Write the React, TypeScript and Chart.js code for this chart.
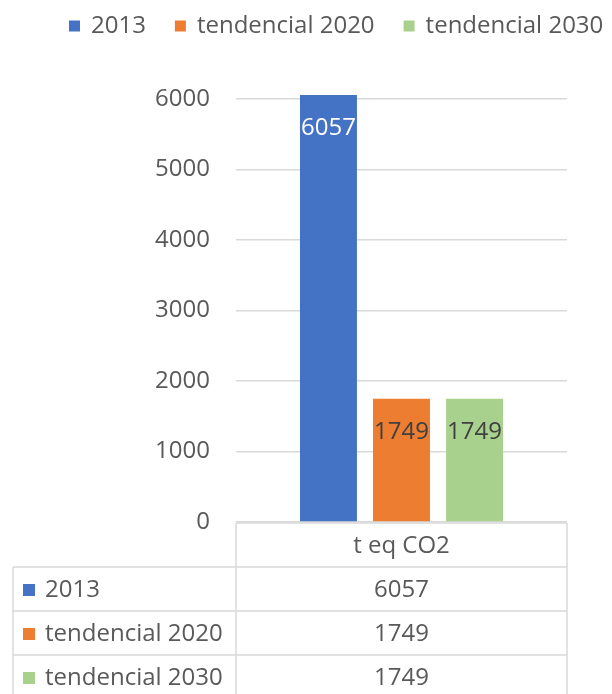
import React, { useEffect, useRef } from 'react';
import { Chart, registerables } from 'chart.js';

Chart.register(...registerables);

// ---- data ----
const categories = ['t eq CO2'];
const seriesNames = ['2013', 'tendencial 2020', 'tendencial 2030'];
const series2013 = [6057];
const seriesTend2020 = [1749];
const seriesTend2030 = [1749];
const seriesColors = ['#4472C4', '#ED7D31', '#A9D18E'];
const dataLabelColors = ['#FFFFFF', '#404040', '#404040'];
const yMin = 0;
const yMax = 6000;
const yStep = 1000;

const FONT = '"Open Sans", "Noto Sans", sans-serif';
const FONT_SIZE = 24;
const TEXT = '#595959';
const LINE = '#D9D9D9';

export default function App() {
  const ref = useRef<HTMLCanvasElement>(null);

  useEffect(() => {
    const canvas = ref.current;
    if (!canvas) return;

    const legendPlugin = {
      id: 'customLegend',
      afterDraw(chart: any) {
        const ctx = chart.ctx;
        ctx.save();
        ctx.font = `${FONT_SIZE}px ${FONT}`;
        ctx.textBaseline = 'middle';
        ctx.textAlign = 'left';
        let x = 69;
        const y = 26;
        chart.data.datasets.forEach((ds: any) => {
          ctx.fillStyle = ds.backgroundColor;
          ctx.fillRect(x, y - 5.5, 11, 11);
          ctx.fillStyle = TEXT;
          ctx.fillText(ds.label, x + 22, y);
          x += 22 + ctx.measureText(ds.label).width + 29;
        });
        ctx.restore();
      },
    };

    const dataLabelPlugin = {
      id: 'dataLabels',
      afterDatasetsDraw(chart: any) {
        const ctx = chart.ctx;
        ctx.save();
        ctx.font = `${FONT_SIZE}px ${FONT}`;
        ctx.textBaseline = 'middle';
        ctx.textAlign = 'center';
        chart.data.datasets.forEach((ds: any, i: number) => {
          const meta = chart.getDatasetMeta(i);
          meta.data.forEach((bar: any, j: number) => {
            ctx.fillStyle = dataLabelColors[i];
            ctx.fillText(String(ds.data[j]), bar.x, bar.y + 33);
          });
        });
        ctx.restore();
      },
    };

    const tablePlugin = {
      id: 'dataTable',
      afterDraw(chart: any) {
        const ctx = chart.ctx;
        const area = chart.chartArea;
        const xScale = chart.scales.x;
        const rowH = 44;
        const top = area.bottom + 1;
        const tableLeft = 13;
        const bottom = chart.height + 2;
        ctx.save();
        ctx.strokeStyle = LINE;
        ctx.lineWidth = 1.5;
        ctx.beginPath();
        ctx.moveTo(area.left, top);
        ctx.lineTo(area.right, top);
        for (let r = 1; r <= seriesNames.length; r++) {
          const y = top + rowH * r;
          ctx.moveTo(tableLeft, y);
          ctx.lineTo(area.right, y);
        }
        ctx.moveTo(tableLeft, top + rowH);
        ctx.lineTo(tableLeft, bottom);
        ctx.moveTo(area.left, top);
        ctx.lineTo(area.left, bottom);
        ctx.moveTo(area.right, top);
        ctx.lineTo(area.right, bottom);
        ctx.stroke();

        ctx.font = `${FONT_SIZE}px ${FONT}`;
        ctx.textBaseline = 'middle';
        ctx.fillStyle = TEXT;
        ctx.textAlign = 'center';
        chart.data.labels.forEach((lab: string, j: number) => {
          ctx.fillText(lab, xScale.getPixelForValue(j), top + rowH / 2 + 1);
        });
        chart.data.datasets.forEach((ds: any, i: number) => {
          const cy = top + rowH * (i + 1) + rowH / 2 + 1;
          ctx.fillStyle = ds.backgroundColor;
          ctx.fillRect(tableLeft + 10, cy - 6, 12, 12);
          ctx.fillStyle = TEXT;
          ctx.textAlign = 'left';
          ctx.fillText(ds.label, tableLeft + 32, cy);
          ctx.textAlign = 'center';
          ds.data.forEach((v: number, j: number) => {
            ctx.fillText(String(v), xScale.getPixelForValue(j), cy);
          });
        });
        ctx.restore();
      },
    };

    const seriesData = [series2013, seriesTend2020, seriesTend2030];

    const chart = new Chart(canvas, {
      type: 'bar',
      data: {
        labels: categories,
        datasets: seriesNames.map((name, i) => ({
          label: name,
          data: seriesData[i],
          backgroundColor: seriesColors[i],
          borderWidth: 0,
          clip: false as any,
          categoryPercentage: 0.662,
          barPercentage: 0.78,
        })),
      },
      options: {
        responsive: false,
        animation: false,
        devicePixelRatio: 1,
        layout: { padding: { top: 99, right: 45, bottom: 0, left: 0 } },
        plugins: {
          legend: { display: false },
          tooltip: { enabled: false },
          title: { display: false },
        },
        scales: {
          x: {
            ticks: { display: false },
            grid: { display: false },
            border: { display: false },
            afterFit: (scale: any) => {
              scale.height = 172;
            },
          },
          y: {
            min: yMin,
            max: yMax,
            ticks: {
              stepSize: yStep,
              padding: 26,
              color: TEXT,
              font: { family: FONT, size: FONT_SIZE },
              callback: (v: any) => String(v),
            },
            grid: { color: LINE, lineWidth: 1.5, drawTicks: false },
            border: { display: false },
            afterFit: (scale: any) => {
              scale.width = 236;
            },
          },
        },
      },
      plugins: [legendPlugin, dataLabelPlugin, tablePlugin],
    });

    return () => chart.destroy();
  }, []);

  return (
    <div style={{ position: 'absolute', left: 0, top: 0, width: 612, height: 694, background: '#ffffff', overflow: 'hidden' }}>
      <canvas ref={ref} width={612} height={694} style={{ width: 612, height: 694, display: 'block' }} />
    </div>
  );
}
